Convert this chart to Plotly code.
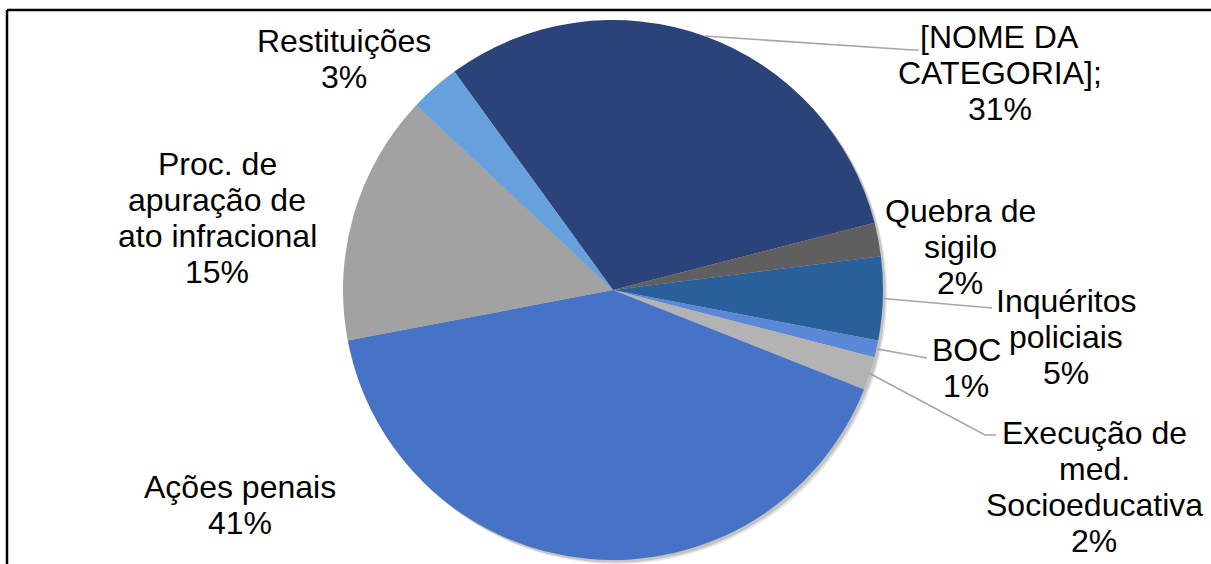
import math
import plotly.graph_objects as go

# ---------------- data ----------------
categories = [
    "[NOME DA CATEGORIA]",
    "Quebra de sigilo",
    "Inquéritos policiais",
    "BOC",
    "Execução de med. Socioeducativa",
    "Ações penais",
    "Proc. de apuração de ato infracional",
    "Restituições",
]
values = [31, 2, 5, 1, 2, 41, 15, 3]
label_lines = [
    ["[NOME DA", "CATEGORIA];"],
    ["Quebra de", "sigilo"],
    ["Inquéritos", "policiais"],
    ["BOC"],
    ["Execução de", "med.", "Socioeducativa"],
    ["Ações penais"],
    ["Proc. de", "apuração de", "ato infracional"],
    ["Restituições"],
]
colors = ["#2b4379", "#5f5f5f", "#2a6099", "#5a88d6", "#b3b3b3",
          "#4673c6", "#a2a2a2", "#66a1dd"]

# ---------------- layout constants ----------------
W, H = 1211, 564
CX, CY, R = 613, 290, 270        # pie centre / radius in px
ROTATION = -36                   # first slice starts here (deg, clockwise from 12h)
FONT = "Liberation Sans, Arial, sans-serif"
FS = 32
LINE_H = 36

# label block: (x centre px, first line y px)
label_pos = [
    (1000, 37), (960, 211), (1066, 301), (966, 350),
    (1094, 433), (240, 487), (217, 164), (344, 41),
]
# leader line end points (px), None = no leader
leader_end = [
    [(913, 50), (919, 50)], None, [(992, 308)], [(927, 358)],
    [(985, 435), (996, 435)], None, None, None,
]


def px(x):
    return x / W


def py(y):
    return 1 - y / H


fig = go.Figure()

# soft shadow
for off, alpha in [(4, 0.10), (2.5, 0.14)]:
    fig.add_trace(go.Pie(
        values=[1], marker=dict(colors=[f"rgba(0,0,0,{alpha})"], line=dict(width=0)),
        textinfo="none", hoverinfo="skip", sort=False, showlegend=False,
        domain=dict(x=[px(CX - R + off), px(CX + R + off)],
                    y=[py(CY + R + off), py(CY - R + off)]),
    ))

fig.add_trace(go.Pie(
    labels=categories, values=values, sort=False, direction="clockwise",
    rotation=ROTATION, textinfo="none",
    marker=dict(colors=colors, line=dict(width=0)),
    domain=dict(x=[px(CX - R), px(CX + R)], y=[py(CY + R), py(CY - R)]),
    showlegend=False,
))

total = sum(values)
annotations = []
shapes = []
cum = 0
for i, v in enumerate(values):
    pct = round(100 * v / total)
    lines = label_lines[i] + [f"{pct}%"]
    xc, y0 = label_pos[i]
    for k, t in enumerate(lines):
        annotations.append(dict(
            x=px(xc), y=py(y0 + k * LINE_H), xref="paper", yref="paper",
            text=t, showarrow=False, xanchor="center", yanchor="middle",
            font=dict(family=FONT, size=FS, color="#000000"),
        ))
    mid = math.radians(ROTATION + 360 * (cum + v / 2) / total)
    cum += v
    if leader_end[i]:
        ax = CX + R * math.sin(mid)
        ay = CY - R * math.cos(mid)
        pts = [(ax, ay)] + leader_end[i]
        path = "M " + " L ".join(f"{px(a)},{py(b)}" for a, b in pts)
        shapes.append(dict(type="path", path=path, xref="paper", yref="paper",
                           line=dict(color="#a6a6a6", width=1.6)))

# chart frame (top & left edges visible)
shapes.append(dict(type="line", xref="paper", yref="paper",
                   x0=px(7), y0=py(10), x1=px(W + 5), y1=py(10),
                   line=dict(color="#000000", width=2.5)))
shapes.append(dict(type="line", xref="paper", yref="paper",
                   x0=px(7), y0=py(10), x1=px(7), y1=py(H + 5),
                   line=dict(color="#000000", width=2.5)))

fig.update_layout(
    width=W, height=H, margin=dict(l=0, r=0, t=0, b=0),
    paper_bgcolor="#ffffff", plot_bgcolor="#ffffff",
    annotations=annotations, shapes=shapes, showlegend=False,
)

fig.write_html(
    "out.html",
    config={"displayModeBar": False},
    post_script="document.body.style.margin='0';document.body.style.overflow='hidden';",
)
